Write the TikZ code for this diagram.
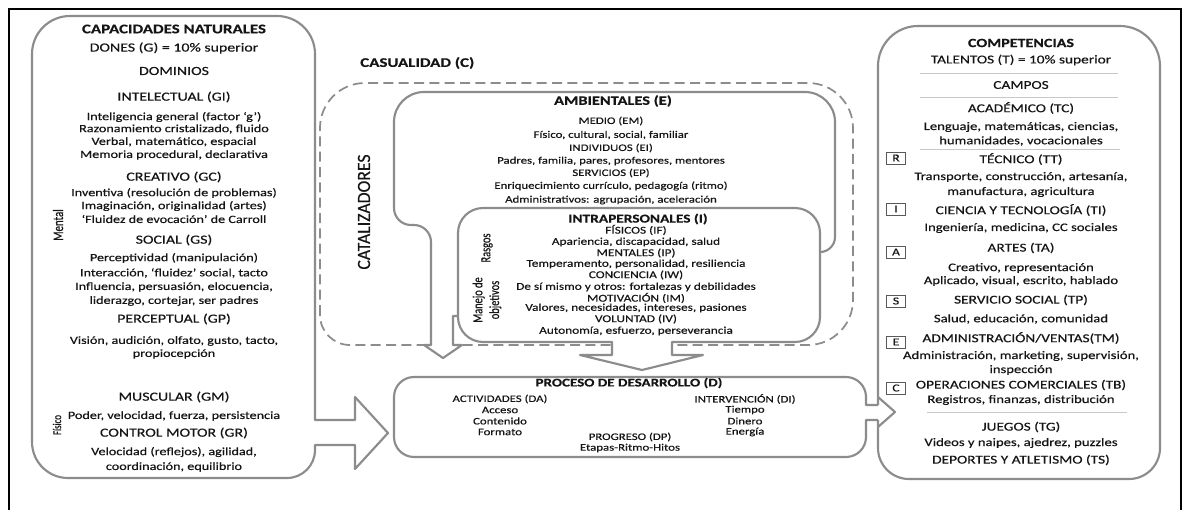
\documentclass[tikz,border=0pt]{standalone}
\usepackage{fontspec}
\setmainfont{Carlito}[FakeStretch=1.28, FakeBold=0.4]
\newfontfamily\rotfont{Carlito}[FakeStretch=0.74, FakeBold=0.5]
\newfontfamily\catfont{Carlito}[FakeStretch=0.95, FakeBold=0.4]
\definecolor{edge}{HTML}{8C8C8C}
\definecolor{ink}{HTML}{151515}
\definecolor{rulegray}{HTML}{C8C8C8}
\tikzset{
  outline/.style={draw=edge, line width=1.6pt, line join=round},
  catal/.style={draw=edge, line width=1.3pt, dash pattern=on 7.5pt off 4pt},
  frame/.style={draw=black, line width=1.6pt},
  sep/.style={draw=rulegray, line width=0.6pt},
  base/.style={inner sep=0pt, text=ink},
  ttl/.style={base, font=\bfseries\fontsize{9.9}{11}\selectfont},
  lhead/.style={base, font=\fontsize{9.3}{11}\selectfont},
  lbody/.style={base, font=\fontsize{8.3}{10}\selectfont},
  mttl/.style={base, font=\bfseries\fontsize{9.6}{11}\selectfont},
  mbody/.style={base, font=\fontsize{7.5}{9}\selectfont},
  ittl/.style={base, font=\bfseries\fontsize{9}{11}\selectfont},
  ibody/.style={base, font=\fontsize{7.8}{9}\selectfont},
  pttl/.style={base, font=\bfseries\fontsize{8.8}{10}\selectfont},
  pbody/.style={base, font=\fontsize{7.5}{9}\selectfont},
  rttl/.style={base, font=\bfseries\fontsize{9.4}{11}\selectfont},
  rhead/.style={base, font=\fontsize{9}{11}\selectfont},
  rbody/.style={base, font=\fontsize{8.6}{10}\selectfont},
  sidelabel/.style={base, rotate=90, align=center, font=\rotfont\fontsize{10.5}{12.5}\selectfont},
  tag/.style={draw=black!65, line width=0.6pt, fill=white, inner sep=0pt,
    minimum width=14pt, minimum height=9pt, text=ink, font=\fontsize{8}{9}\selectfont},
}
\begin{document}
\begin{tikzpicture}[x=0.75pt,y=-0.75pt]
\useasboundingbox (0,0) rectangle (1186,510);
\fill[white] (0,0) rectangle (1186,510);

% outer frame, open at the bottom
\draw[frame] (9,512) -- (9,9) -- (1181,9) -- (1181,512);

% catalysts: dashed ring
\draw[catal] (320,315) -- (320,128) arc[start angle=180,end angle=270,radius=45]
  -- (808,83) arc[start angle=270,end angle=360,radius=45]
  -- (853,300) arc[start angle=0,end angle=90,radius=45]
  -- (350,345) arc[start angle=90,end angle=180,radius=30] -- cycle;

% hollow arrow bodies are white inside
\fill[white] (431,300) rectangle (453,346);
\fill[white] (424,345) -- (443,358) -- (462,345) -- cycle;
\fill[white] (612,340) rectangle (672,356);
\fill[white] (580,355) -- (642,370) -- (703,355) -- cycle;

% natural abilities, with its arrow into the development process
\draw[outline] (32,443) -- (32,54) arc[start angle=180,end angle=270,radius=38]
  -- (277,16) arc[start angle=270,end angle=360,radius=38]
  -- (315,420) -- (355,420) -- (355,397) -- (388,433) -- (355,469) -- (355,445) -- (315,445)
  -- (315,450) arc[start angle=0,end angle=90,radius=28]
  -- (68,478) arc[start angle=90,end angle=180,radius=36] -- cycle;

% environmental catalysts, ending in a down arrow on the left
\draw[outline] (458,316) -- (453,316) -- (453,345) -- (462,345) -- (443,358) -- (424,345) -- (431,345)
  -- (431,242) arc[start angle=0,end angle=-90,radius=17]
  -- (411,225) arc[start angle=90,end angle=180,radius=17]
  -- (394,122) arc[start angle=180,end angle=270,radius=30]
  -- (805,92) arc[start angle=270,end angle=360,radius=30]
  -- (835,237) arc[start angle=0,end angle=90,radius=15];

% intrapersonal catalysts, with the central down arrow
\draw[outline] (672,342) -- (672,355) -- (703,355) -- (642,370) -- (580,355) -- (612,355) -- (612,342)
  -- (483,342) arc[start angle=90,end angle=180,radius=25]
  -- (458,233) arc[start angle=180,end angle=270,radius=25]
  -- (795,208) arc[start angle=270,end angle=360,radius=25]
  -- (820,317) arc[start angle=0,end angle=90,radius=25] -- cycle;

% developmental process
\draw[outline] (878,405) -- (866,405) -- (866,397) arc[start angle=0,end angle=-90,radius=20]
  -- (414,377) arc[start angle=270,end angle=180,radius=20]
  -- (394,437) arc[start angle=180,end angle=90,radius=20]
  -- (846,457) arc[start angle=90,end angle=0,radius=20]
  -- (866,420) -- (878,420);

% competencies
\draw[outline] (878,405) -- (878,66) arc[start angle=180,end angle=270,radius=40]
  -- (1120,26) arc[start angle=270,end angle=360,radius=40]
  -- (1160,448) arc[start angle=0,end angle=90,radius=31]
  -- (909,479) arc[start angle=90,end angle=180,radius=31] -- (878,420);
\draw[outline] (878,397) -- (895,412) -- (878,427);

% thin separators in the competencies list
\draw[sep] (920,73) -- (1118,73);
\draw[sep] (920,97) -- (1118,97);
\draw[sep] (920,149) -- (1120,149);
\draw[sep] (927,412) -- (1127,412);

% ---- CAPACIDADES NATURALES ----
\node[ttl]   (cn)   at (174,29)  {CAPACIDADES NATURALES};
\node[lhead] (dn)   at (174,48)  {DONES (G) = 10\% superior};
\node[lhead] (dm)   at (174,71)  {DOMINIOS};
\node[lhead] (gi)   at (174,97)  {INTELECTUAL (GI)};
\node[lbody] (gi1)  at (174,117) {Inteligencia general (factor ‘g’)};
\node[lbody] (gi2)  at (174,129) {Razonamiento cristalizado, fluido};
\node[lbody] (gi3)  at (174,142) {Verbal, matemático, espacial};
\node[lbody] (gi4)  at (174,155) {Memoria procedural, declarativa};
\node[lhead] (gc)   at (174,177) {CREATIVO (GC)};
\node[lbody] (gc1)  at (174,193) {Inventiva (resolución de problemas)};
\node[lbody] (gc2)  at (174,206) {Imaginación, originalidad (artes)};
\node[lbody] (gc3)  at (174,219) {‘Fluidez de evocación’ de Carroll};
\node[lhead] (gs)   at (174,240) {SOCIAL (GS)};
\node[lbody] (gs1)  at (174,258) {Perceptividad (manipulación)};
\node[lbody] (gs2)  at (174,273) {Interacción, ‘fluidez’ social, tacto};
\node[lbody] (gs3)  at (174,287) {Influencia, persuasión, elocuencia,};
\node[lbody] (gs4)  at (174,301) {liderazgo, cortejar, ser padres};
\node[lhead] (gp)   at (174,319) {PERCEPTUAL (GP)};
\node[lbody] (gp1)  at (174,341) {Visión, audición, olfato, gusto, tacto,};
\node[lbody] (gp2)  at (174,354) {propiocepción};
\node[lhead] (gm)   at (174,397) {MUSCULAR (GM)};
\node[lbody] (gm1)  at (174,416) {Poder, velocidad, fuerza, persistencia};
\node[lhead] (gr)   at (174,433) {CONTROL MOTOR (GR)};
\node[lbody] (gr1)  at (174,452) {Velocidad (reflejos), agilidad,};
\node[lbody] (gr2)  at (174,467) {coordinación, equilibrio};
\node[sidelabel, font=\rotfont\fontsize{11}{13}\selectfont] (mental) at (58,225) {Mental};
\node[sidelabel, font=\rotfont\fontsize{9}{11}\selectfont] (fisico) at (57,425) {Físico};

% ---- CASUALIDAD / CATALIZADORES ----
\node[ttl, anchor=west] (cas) at (360,63) {CASUALIDAD (C)};
\node[sidelabel, font=\catfont\fontsize{14}{16}\selectfont] (cat) at (364,212) {CATALIZADORES};

\node[mttl]  (amb)  at (613,101) {AMBIENTALES (E)};
\node[mbody] (em)   at (611,121) {MEDIO (EM)};
\node[mbody] (em1)  at (611,135) {Físico, cultural, social, familiar};
\node[mbody] (ei)   at (611,148) {INDIVIDUOS (EI)};
\node[mbody] (ei1)  at (611,161) {Padres, familia, pares, profesores, mentores};
\node[mbody] (ep)   at (611,173) {SERVICIOS (EP)};
\node[mbody] (ep1)  at (611,186) {Enriquecimiento currículo, pedagogía (ritmo)};
\node[mbody] (ep2)  at (611,200) {Administrativos: agrupación, aceleración};

\node[ittl]  (ip)   at (638,219) {INTRAPERSONALES (I)};
\node[ibody] (if)   at (636,230) {FÍSICOS (IF)};
\node[ibody] (if1)  at (636,242) {Apariencia, discapacidad, salud};
\node[ibody] (im)   at (636,253) {MENTALES (IP)};
\node[ibody] (im1)  at (636,264) {Temperamento, personalidad, resiliencia};
\node[ibody] (iw)   at (636,275) {CONCIENCIA (IW)};
\node[ibody] (iw1)  at (636,287) {De sí mismo y otros: fortalezas y debilidades};
\node[ibody] (imo)  at (636,298) {MOTIVACIÓN (IM)};
\node[ibody] (imo1) at (636,308) {Valores, necesidades, intereses, pasiones};
\node[ibody] (iv)   at (636,319) {VOLUNTAD (IV)};
\node[ibody] (iv1)  at (636,331) {Autonomía, esfuerzo, perseverancia};
\node[sidelabel] (rasgos) at (487,248) {Rasgos};
\node[sidelabel] (manejo) at (487,300) {Manejo de\\objetivos};

% ---- PROCESO DE DESARROLLO ----
\node[pttl]  (pd)   at (629,383) {PROCESO DE DESARROLLO (D)};
\node[pbody] (da)   at (500,399) {ACTIVIDADES (DA)};
\node[pbody] (da1)  at (500,410) {Acceso};
\node[pbody] (da2)  at (500,421) {Contenido};
\node[pbody] (da3)  at (500,432) {Formato};
\node[pbody] (di)   at (745,399) {INTERVENCIÓN (DI)};
\node[pbody] (di1)  at (745,410) {Tiempo};
\node[pbody] (di2)  at (745,421) {Dinero};
\node[pbody] (di3)  at (745,432) {Energía};
\node[pbody] (dp)   at (630,437) {PROGRESO (DP)};
\node[pbody] (dp1)  at (630,448) {Etapas-Ritmo-Hitos};

% ---- COMPETENCIAS ----
\node[rttl]  (co)   at (1021,43)  {COMPETENCIAS};
\node[rhead] (ta)   at (1021,60)  {TALENTOS (T) = 10\% superior};
\node[rhead] (ca)   at (1021,85)  {CAMPOS};
\node[rhead] (tc)   at (1021,108) {ACADÉMICO (TC)};
\node[rbody] (tc1)  at (1021,127) {Lenguaje,  matemáticas, ciencias,};
\node[rbody] (tc2)  at (1021,141) {humanidades, vocacionales};
\node[rhead] (tt)   at (1021,159) {TÉCNICO (TT)};
\node[rbody] (tt1)  at (1021,177) {Transporte, construcción, artesanía,};
\node[rbody] (tt2)  at (1021,192) {manufactura, agricultura};
\node[rhead] (ti)   at (1021,210) {CIENCIA Y TECNOLOGÍA (TI)};
\node[rbody] (ti1)  at (1021,228) {Ingeniería,  medicina, CC sociales};
\node[rhead] (tar)  at (1021,248) {ARTES (TA)};
\node[rbody] (tar1) at (1021,268) {Creativo, representación};
\node[rbody] (tar2) at (1021,281) {Aplicado, visual, escrito, hablado};
\node[rhead] (tp)   at (1021,300) {SERVICIO SOCIAL (TP)};
\node[rbody] (tp1)  at (1021,319) {Salud, educación, comunidad};
\node[rhead] (tm)   at (1021,338) {ADMINISTRACIÓN/VENTAS(TM)};
\node[rbody] (tm1)  at (1021,356) {Administración, marketing, supervisión,};
\node[rbody] (tm2)  at (1021,370) {inspección};
\node[rhead] (tb)   at (1021,385) {OPERACIONES  COMERCIALES (TB)};
\node[rbody] (tb1)  at (1021,400) {Registros, finanzas, distribución};
\node[rhead] (tg)   at (1021,427) {JUEGOS (TG)};
\node[rbody] (tg1)  at (1021,443) {Videos y naipes, ajedrez, puzzles};
\node[rhead] (ts)   at (1021,460) {DEPORTES Y ATLETISMO (TS)};

\node[tag] (kR) at (896,158) {R};
\node[tag] (kI) at (896,209) {I};
\node[tag] (kA) at (896,252) {A};
\node[tag] (kS) at (896,301) {S};
\node[tag] (kE) at (896,342) {E};
\node[tag] (kC) at (896,388) {C};
\end{tikzpicture}
\end{document}
